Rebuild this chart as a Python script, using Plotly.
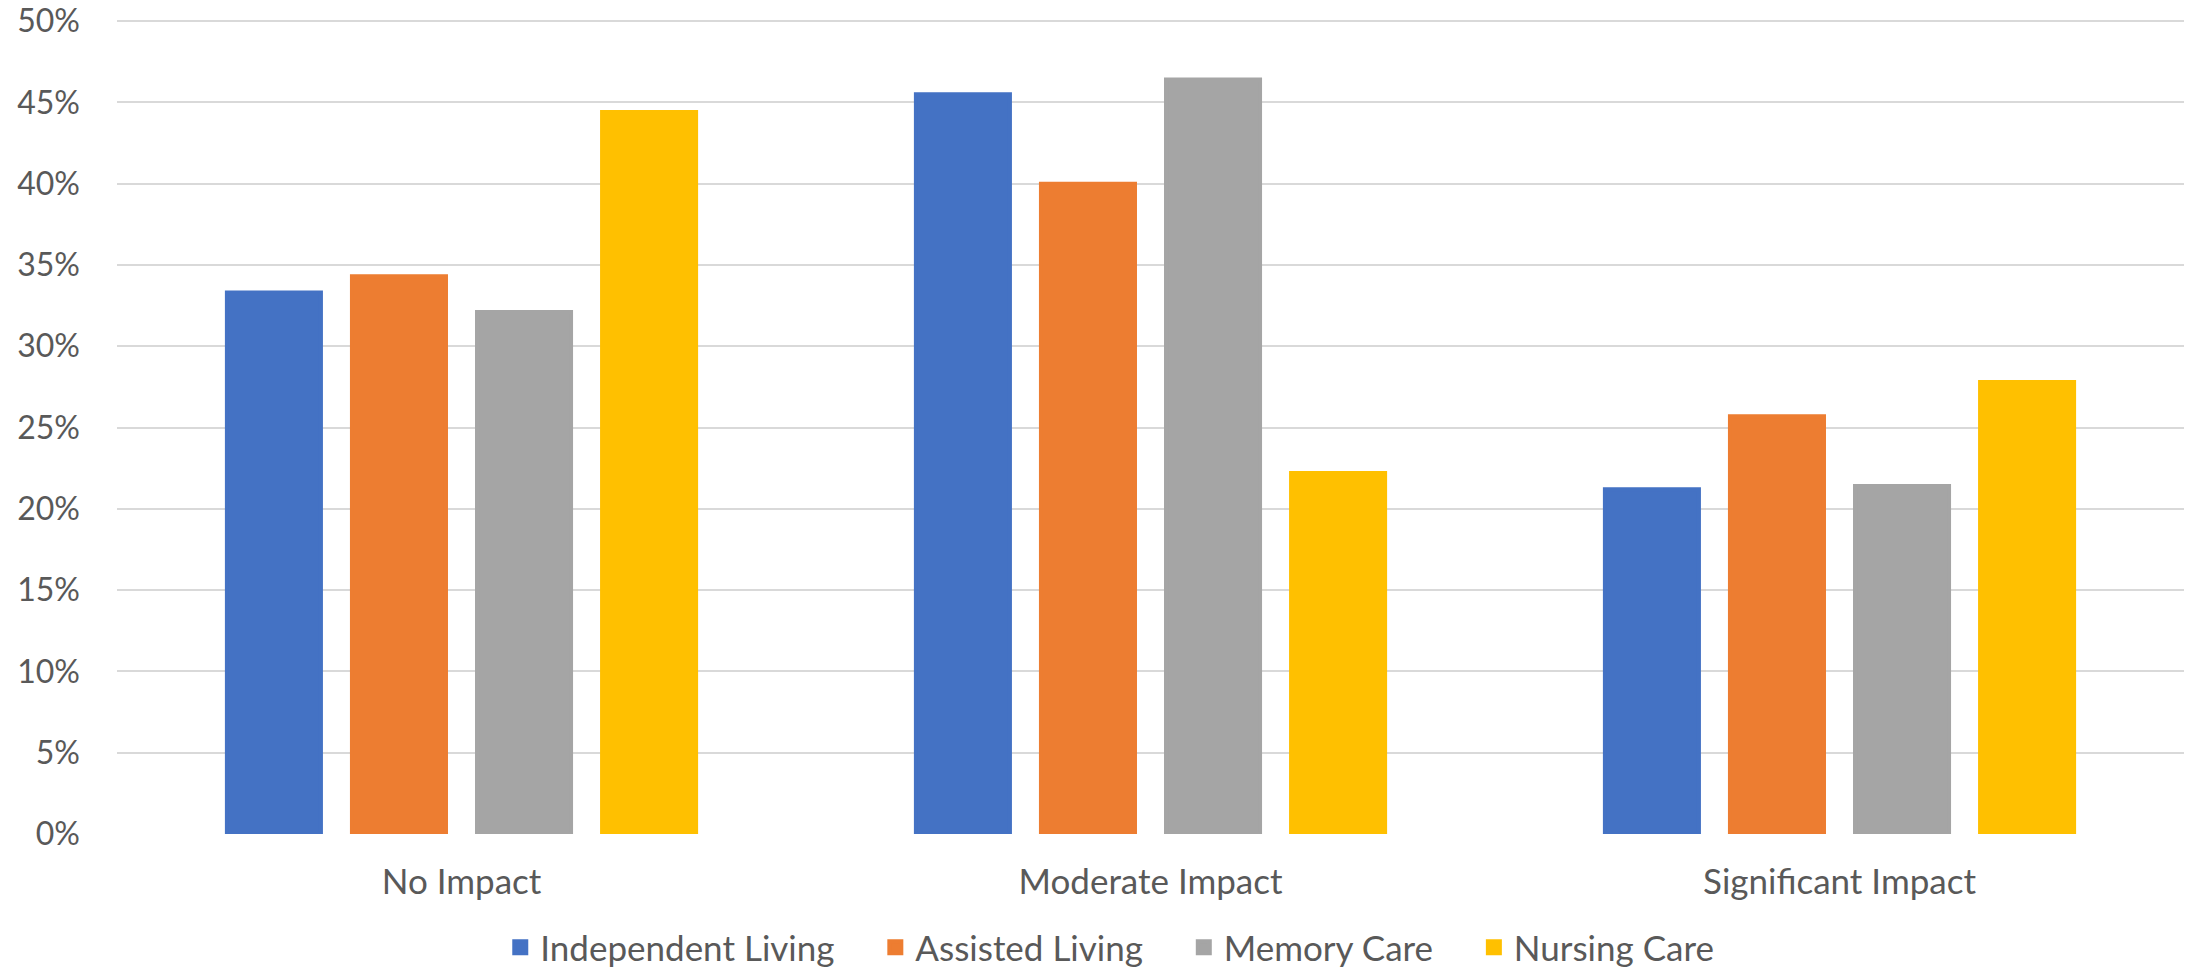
import plotly.graph_objects as go

# Share of residents by impact level, per care setting
categories = ["No Impact", "Moderate Impact", "Significant Impact"]
independent_living = [0.333, 0.455, 0.212]
assisted_living = [0.343, 0.400, 0.257]
memory_care = [0.321, 0.464, 0.214]
nursing_care = [0.444, 0.222, 0.278]
y_ticks = [0.00, 0.05, 0.10, 0.15, 0.20, 0.25, 0.30, 0.35, 0.40, 0.45, 0.50]

series = [
    ("Independent Living", independent_living, "#4472C4"),
    ("Assisted Living", assisted_living, "#ED7D31"),
    ("Memory Care", memory_care, "#A5A5A5"),
    ("Nursing Care", nursing_care, "#FFC000"),
]

FONT = "Lato, sans-serif"
FONT_SIZE = 35
Y_FONT_SIZE = 32
TEXT_COLOR = "#595959"
PAD = "\u00a0" * 4
OUTLINE = 4

fig = go.Figure()
for name, values, color in series:
    fig.add_trace(go.Bar(
        name=name + PAD,
        x=categories,
        y=values,
        marker=dict(color=color, line=dict(color=color, width=OUTLINE)),
        hoverinfo="x+y+name",
    ))

fig.update_layout(
    width=2191,
    height=971,
    margin=dict(l=117, r=7, t=17, b=137, autoexpand=False),
    paper_bgcolor="white",
    plot_bgcolor="white",
    barmode="group",
    bargap=0.274,
    bargroupgap=0.248,
    font=dict(family=FONT, size=FONT_SIZE, color=TEXT_COLOR),
    legend=dict(
        orientation="h",
        x=0.489,
        xanchor="center",
        y=-0.139,
        yanchor="middle",
        font=dict(family=FONT, size=FONT_SIZE, color=TEXT_COLOR),
        bgcolor="rgba(0,0,0,0)",
    ),
    xaxis=dict(
        showgrid=False,
        showline=False,
        ticks="",
        ticklabelstandoff=24,
        tickfont=dict(family=FONT, size=FONT_SIZE, color=TEXT_COLOR),
    ),
    yaxis=dict(
        range=[0, 0.5025],
        tickmode="array",
        tickvals=y_ticks,
        tickformat=".0%",
        showgrid=True,
        gridcolor="#D9D9D9",
        gridwidth=1.5,
        zeroline=False,
        showline=False,
        ticks="",
        ticklabelstandoff=36,
        ticklabeloverflow="allow",
        tickfont=dict(family=FONT, size=Y_FONT_SIZE, color=TEXT_COLOR),
    ),
)

fig.write_html("out.html")
